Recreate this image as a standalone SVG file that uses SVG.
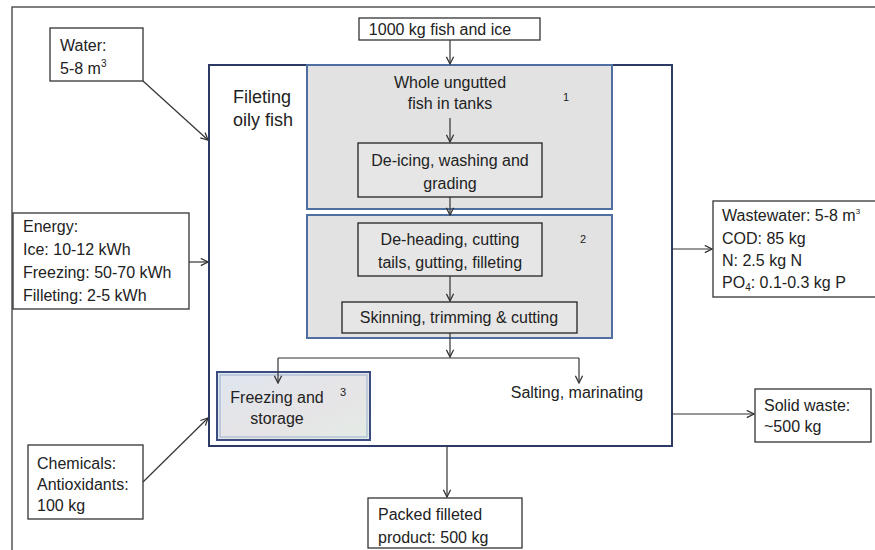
<svg xmlns="http://www.w3.org/2000/svg" width="875" height="550" viewBox="0 0 875 550">
<defs>
<style>
text{font-family:"Liberation Sans","Open Sans",Arial,sans-serif;font-size:16px;fill:#222}
.box{fill:#fff;stroke:#333;stroke-width:1.3}
.ibox{fill:#e6e6e6;stroke:#222;stroke-width:1.3}
.stage{fill:#e2e2e2;stroke:#4f6fa0;stroke-width:2}
.main{fill:#fff;stroke:#2c3a66;stroke-width:2}
.c{text-anchor:middle}
.big{font-size:18px}
.num{font-size:11px}
.con{fill:none;stroke:#333;stroke-width:1.2;marker-end:url(#ah)}
.frame{fill:none;stroke:#555;stroke-width:1.5}
</style>
<marker id="ah" viewBox="0 0 10 10" refX="9" refY="5" markerWidth="9" markerHeight="9" markerUnits="userSpaceOnUse" orient="auto">
<path d="M1,1 L9,5 L1,9" fill="none" stroke="#333" stroke-width="1.4"/>
</marker>
<linearGradient id="fz" x1="0" y1="0" x2="1" y2="1">
<stop offset="0" stop-color="#dfe6ee"/>
<stop offset="0.6" stop-color="#e6e4e6"/>
<stop offset="1" stop-color="#e3ece6"/>
</linearGradient>
</defs>
<path class="frame" d="M12,550 L12,7 L875,7"/>
<g id="main">
<rect class="main" x="209" y="65" width="463" height="381"/>
<text class="big" x="233" y="103">Fileting</text>
<text class="big" x="233" y="126">oily fish</text>
</g>
<g id="stage1">
<rect class="stage" x="307" y="65" width="305" height="144"/>
<text class="c" x="450" y="88">Whole ungutted</text>
<text class="c" x="450" y="109">fish in tanks</text>
<text class="num" x="563" y="101">1</text>
</g>
<g id="deicing">
<rect class="ibox" x="358" y="143" width="184" height="54"/>
<text class="c" x="450" y="166">De-icing, washing  and</text>
<text class="c" x="450" y="189">grading</text>
</g>
<g id="stage2">
<rect class="stage" x="307" y="215" width="305" height="123"/>
<text class="num" x="580" y="243">2</text>
</g>
<g id="deheading">
<rect class="ibox" x="358" y="223" width="184" height="53"/>
<text class="c" x="450" y="245">De-heading, cutting</text>
<text class="c" x="450" y="268">tails, gutting, filleting</text>
</g>
<g id="skinning">
<rect class="ibox" x="342" y="302" width="235" height="31"/>
<text class="c" x="459" y="323">Skinning, trimming &amp; cutting</text>
</g>
<g id="freezing">
<rect x="217" y="372" width="153" height="68" fill="url(#fz)" stroke="#3a4c80" stroke-width="2"/>
<rect x="220" y="375" width="147" height="62" fill="none" stroke="#9ab0d0" stroke-width="1"/>
<text class="c" x="277" y="403">Freezing and</text>
<text class="c" x="277" y="424">storage</text>
<text class="num" x="340" y="396">3</text>
</g>
<g id="salting">
<text class="c" x="577" y="398">Salting, marinating</text>
</g>
<g id="input">
<rect class="box" x="359" y="18" width="181" height="22"/>
<text class="c" x="440" y="35">1000 kg fish and ice</text>
</g>
<g id="water">
<rect class="box" x="50" y="28" width="93" height="53"/>
<text x="60" y="51">Water:</text>
<text x="60" y="74">5-8  m<tspan font-size="10" dy="-7">3</tspan></text>
</g>
<g id="energy">
<rect class="box" x="13" y="213" width="176" height="96"/>
<text x="23" y="232">Energy:</text>
<text x="23" y="255">Ice: 10-12 kWh</text>
<text x="23" y="278">Freezing: 50-70 kWh</text>
<text x="23" y="301">Filleting: 2-5 kWh</text>
</g>
<g id="chemicals">
<rect class="box" x="28" y="445" width="115" height="74"/>
<text x="37" y="469">Chemicals:</text>
<text x="37" y="490">Antioxidants:</text>
<text x="37" y="511">100 kg</text>
</g>
<g id="packed">
<rect class="box" x="368" y="498" width="154" height="50"/>
<text x="378" y="520">Packed filleted</text>
<text x="378" y="543">product: 500 kg</text>
</g>
<g id="wastewater">
<rect class="box" x="713" y="201" width="170" height="96"/>
<text x="722" y="221">Wastewater: 5-8  m<tspan font-size="8" dy="-7">3</tspan></text>
<text x="722" y="244">COD: 85 kg</text>
<text x="722" y="266">N: 2.5 kg N</text>
<text x="722" y="288">PO<tspan font-size="10" dy="3">4</tspan><tspan dy="-3">: 0.1-0.3 kg P</tspan></text>
</g>
<g id="solid">
<rect class="box" x="755" y="389" width="116" height="53"/>
<text x="764" y="411">Solid waste:</text>
<text x="764" y="432">~500 kg</text>
</g>
<g id="connectors">
<path class="con" d="M450,40 L450,64"/>
<path class="con" d="M450,118 L450,142"/>
<path class="con" d="M450,197 L450,215"/>
<path class="con" d="M450,276 L450,301"/>
<path class="con" d="M450,333 L450,357"/>
<path fill="none" stroke="#333" stroke-width="1.2" d="M278,358 L579,358"/>
<path class="con" d="M278,358 L278,383"/>
<path class="con" d="M579,358 L579,383"/>
<path class="con" d="M143,81 L208,140"/>
<path class="con" d="M189,262 L208,262"/>
<path class="con" d="M143,482 L208,418"/>
<path class="con" d="M447,446 L447,497"/>
<path class="con" d="M672,249 L712,249"/>
<path class="con" d="M672,414 L754,414"/>
</g>
</svg>
